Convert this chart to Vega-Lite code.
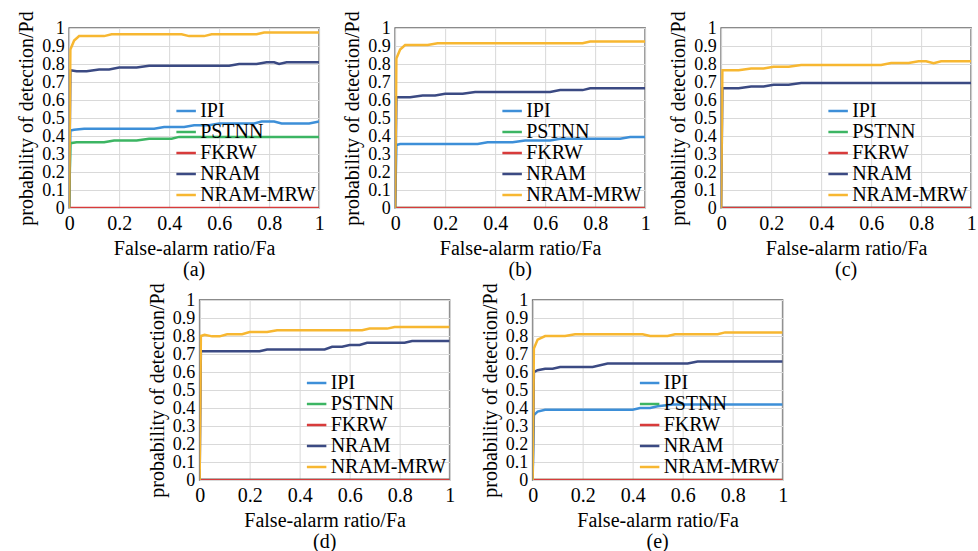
{
  "$schema": "https://vega.github.io/schema/vega-lite/v6.json",
  "padding": {"left": 15, "top": 10, "right": 0, "bottom": 0},
  "background": "white",
  "data": {"values": [
    {"p":"a","m":"IPI","x":0,"y":0},{"p":"a","m":"IPI","x":0.005,"y":0.43},{"p":"a","m":"IPI","x":0.02,"y":0.435},{"p":"a","m":"IPI","x":0.06,"y":0.44},{"p":"a","m":"IPI","x":0.34,"y":0.44},{"p":"a","m":"IPI","x":0.38,"y":0.45},{"p":"a","m":"IPI","x":0.46,"y":0.45},{"p":"a","m":"IPI","x":0.5,"y":0.46},{"p":"a","m":"IPI","x":0.56,"y":0.46},{"p":"a","m":"IPI","x":0.6,"y":0.47},{"p":"a","m":"IPI","x":0.74,"y":0.47},{"p":"a","m":"IPI","x":0.77,"y":0.48},{"p":"a","m":"IPI","x":0.82,"y":0.48},{"p":"a","m":"IPI","x":0.85,"y":0.47},{"p":"a","m":"IPI","x":0.96,"y":0.47},{"p":"a","m":"IPI","x":1,"y":0.48},
    {"p":"a","m":"PSTNN","x":0,"y":0},{"p":"a","m":"PSTNN","x":0.005,"y":0.36},{"p":"a","m":"PSTNN","x":0.03,"y":0.365},{"p":"a","m":"PSTNN","x":0.14,"y":0.365},{"p":"a","m":"PSTNN","x":0.18,"y":0.375},{"p":"a","m":"PSTNN","x":0.27,"y":0.375},{"p":"a","m":"PSTNN","x":0.32,"y":0.385},{"p":"a","m":"PSTNN","x":0.41,"y":0.385},{"p":"a","m":"PSTNN","x":0.44,"y":0.395},{"p":"a","m":"PSTNN","x":1,"y":0.395},
    {"p":"a","m":"FKRW","x":0,"y":0},{"p":"a","m":"FKRW","x":1,"y":0},
    {"p":"a","m":"NRAM","x":0,"y":0},{"p":"a","m":"NRAM","x":0.005,"y":0.765},{"p":"a","m":"NRAM","x":0.03,"y":0.76},{"p":"a","m":"NRAM","x":0.07,"y":0.76},{"p":"a","m":"NRAM","x":0.12,"y":0.77},{"p":"a","m":"NRAM","x":0.16,"y":0.77},{"p":"a","m":"NRAM","x":0.2,"y":0.78},{"p":"a","m":"NRAM","x":0.27,"y":0.78},{"p":"a","m":"NRAM","x":0.32,"y":0.79},{"p":"a","m":"NRAM","x":0.64,"y":0.79},{"p":"a","m":"NRAM","x":0.68,"y":0.8},{"p":"a","m":"NRAM","x":0.75,"y":0.8},{"p":"a","m":"NRAM","x":0.79,"y":0.81},{"p":"a","m":"NRAM","x":0.82,"y":0.81},{"p":"a","m":"NRAM","x":0.84,"y":0.8},{"p":"a","m":"NRAM","x":0.87,"y":0.81},{"p":"a","m":"NRAM","x":1,"y":0.81},
    {"p":"a","m":"NRAM-MRW","x":0,"y":0},{"p":"a","m":"NRAM-MRW","x":0.005,"y":0.88},{"p":"a","m":"NRAM-MRW","x":0.02,"y":0.93},{"p":"a","m":"NRAM-MRW","x":0.04,"y":0.955},{"p":"a","m":"NRAM-MRW","x":0.14,"y":0.955},{"p":"a","m":"NRAM-MRW","x":0.17,"y":0.965},{"p":"a","m":"NRAM-MRW","x":0.45,"y":0.965},{"p":"a","m":"NRAM-MRW","x":0.48,"y":0.955},{"p":"a","m":"NRAM-MRW","x":0.54,"y":0.955},{"p":"a","m":"NRAM-MRW","x":0.57,"y":0.965},{"p":"a","m":"NRAM-MRW","x":0.75,"y":0.965},{"p":"a","m":"NRAM-MRW","x":0.78,"y":0.975},{"p":"a","m":"NRAM-MRW","x":1,"y":0.975},

    {"p":"b","m":"IPI","x":0,"y":0},{"p":"b","m":"IPI","x":0.005,"y":0.35},{"p":"b","m":"IPI","x":0.02,"y":0.355},{"p":"b","m":"IPI","x":0.33,"y":0.355},{"p":"b","m":"IPI","x":0.37,"y":0.365},{"p":"b","m":"IPI","x":0.47,"y":0.365},{"p":"b","m":"IPI","x":0.52,"y":0.375},{"p":"b","m":"IPI","x":0.62,"y":0.375},{"p":"b","m":"IPI","x":0.66,"y":0.385},{"p":"b","m":"IPI","x":0.9,"y":0.385},{"p":"b","m":"IPI","x":0.94,"y":0.395},{"p":"b","m":"IPI","x":1,"y":0.395},
    {"p":"b","m":"PSTNN","x":0,"y":0},{"p":"b","m":"PSTNN","x":1,"y":0},
    {"p":"b","m":"FKRW","x":0,"y":0},{"p":"b","m":"FKRW","x":1,"y":0},
    {"p":"b","m":"NRAM","x":0,"y":0},{"p":"b","m":"NRAM","x":0.005,"y":0.615},{"p":"b","m":"NRAM","x":0.03,"y":0.615},{"p":"b","m":"NRAM","x":0.06,"y":0.615},{"p":"b","m":"NRAM","x":0.11,"y":0.625},{"p":"b","m":"NRAM","x":0.16,"y":0.625},{"p":"b","m":"NRAM","x":0.2,"y":0.635},{"p":"b","m":"NRAM","x":0.27,"y":0.635},{"p":"b","m":"NRAM","x":0.32,"y":0.645},{"p":"b","m":"NRAM","x":0.62,"y":0.645},{"p":"b","m":"NRAM","x":0.66,"y":0.655},{"p":"b","m":"NRAM","x":0.75,"y":0.655},{"p":"b","m":"NRAM","x":0.78,"y":0.665},{"p":"b","m":"NRAM","x":1,"y":0.665},
    {"p":"b","m":"NRAM-MRW","x":0,"y":0},{"p":"b","m":"NRAM-MRW","x":0.005,"y":0.83},{"p":"b","m":"NRAM-MRW","x":0.02,"y":0.88},{"p":"b","m":"NRAM-MRW","x":0.04,"y":0.905},{"p":"b","m":"NRAM-MRW","x":0.13,"y":0.905},{"p":"b","m":"NRAM-MRW","x":0.17,"y":0.915},{"p":"b","m":"NRAM-MRW","x":0.75,"y":0.915},{"p":"b","m":"NRAM-MRW","x":0.78,"y":0.925},{"p":"b","m":"NRAM-MRW","x":1,"y":0.925},

    {"p":"c","m":"IPI","x":0,"y":0},{"p":"c","m":"IPI","x":1,"y":0},
    {"p":"c","m":"PSTNN","x":0,"y":0},{"p":"c","m":"PSTNN","x":1,"y":0},
    {"p":"c","m":"FKRW","x":0,"y":0},{"p":"c","m":"FKRW","x":1,"y":0},
    {"p":"c","m":"NRAM","x":0,"y":0},{"p":"c","m":"NRAM","x":0.005,"y":0.665},{"p":"c","m":"NRAM","x":0.03,"y":0.665},{"p":"c","m":"NRAM","x":0.07,"y":0.665},{"p":"c","m":"NRAM","x":0.12,"y":0.675},{"p":"c","m":"NRAM","x":0.17,"y":0.675},{"p":"c","m":"NRAM","x":0.21,"y":0.685},{"p":"c","m":"NRAM","x":0.27,"y":0.685},{"p":"c","m":"NRAM","x":0.32,"y":0.695},{"p":"c","m":"NRAM","x":1,"y":0.695},
    {"p":"c","m":"NRAM-MRW","x":0,"y":0},{"p":"c","m":"NRAM-MRW","x":0.005,"y":0.765},{"p":"c","m":"NRAM-MRW","x":0.03,"y":0.765},{"p":"c","m":"NRAM-MRW","x":0.07,"y":0.765},{"p":"c","m":"NRAM-MRW","x":0.12,"y":0.775},{"p":"c","m":"NRAM-MRW","x":0.17,"y":0.775},{"p":"c","m":"NRAM-MRW","x":0.21,"y":0.785},{"p":"c","m":"NRAM-MRW","x":0.27,"y":0.785},{"p":"c","m":"NRAM-MRW","x":0.32,"y":0.795},{"p":"c","m":"NRAM-MRW","x":0.64,"y":0.795},{"p":"c","m":"NRAM-MRW","x":0.68,"y":0.805},{"p":"c","m":"NRAM-MRW","x":0.75,"y":0.805},{"p":"c","m":"NRAM-MRW","x":0.79,"y":0.815},{"p":"c","m":"NRAM-MRW","x":0.82,"y":0.815},{"p":"c","m":"NRAM-MRW","x":0.85,"y":0.805},{"p":"c","m":"NRAM-MRW","x":0.88,"y":0.815},{"p":"c","m":"NRAM-MRW","x":1,"y":0.815},

    {"p":"d","m":"IPI","x":0,"y":0},{"p":"d","m":"IPI","x":1,"y":0},
    {"p":"d","m":"PSTNN","x":0,"y":0},{"p":"d","m":"PSTNN","x":1,"y":0},
    {"p":"d","m":"FKRW","x":0,"y":0},{"p":"d","m":"FKRW","x":1,"y":0},
    {"p":"d","m":"NRAM","x":0,"y":0},{"p":"d","m":"NRAM","x":0.005,"y":0.715},{"p":"d","m":"NRAM","x":0.24,"y":0.715},{"p":"d","m":"NRAM","x":0.27,"y":0.725},{"p":"d","m":"NRAM","x":0.5,"y":0.725},{"p":"d","m":"NRAM","x":0.53,"y":0.74},{"p":"d","m":"NRAM","x":0.57,"y":0.74},{"p":"d","m":"NRAM","x":0.6,"y":0.75},{"p":"d","m":"NRAM","x":0.64,"y":0.75},{"p":"d","m":"NRAM","x":0.67,"y":0.762},{"p":"d","m":"NRAM","x":0.82,"y":0.762},{"p":"d","m":"NRAM","x":0.85,"y":0.772},{"p":"d","m":"NRAM","x":1,"y":0.772},
    {"p":"d","m":"NRAM-MRW","x":0,"y":0},{"p":"d","m":"NRAM-MRW","x":0.005,"y":0.8},{"p":"d","m":"NRAM-MRW","x":0.02,"y":0.807},{"p":"d","m":"NRAM-MRW","x":0.05,"y":0.798},{"p":"d","m":"NRAM-MRW","x":0.08,"y":0.798},{"p":"d","m":"NRAM-MRW","x":0.11,"y":0.81},{"p":"d","m":"NRAM-MRW","x":0.17,"y":0.81},{"p":"d","m":"NRAM-MRW","x":0.2,"y":0.822},{"p":"d","m":"NRAM-MRW","x":0.27,"y":0.822},{"p":"d","m":"NRAM-MRW","x":0.31,"y":0.832},{"p":"d","m":"NRAM-MRW","x":0.65,"y":0.832},{"p":"d","m":"NRAM-MRW","x":0.68,"y":0.841},{"p":"d","m":"NRAM-MRW","x":0.75,"y":0.841},{"p":"d","m":"NRAM-MRW","x":0.78,"y":0.85},{"p":"d","m":"NRAM-MRW","x":1,"y":0.85},

    {"p":"e","m":"IPI","x":0,"y":0},{"p":"e","m":"IPI","x":0.005,"y":0.36},{"p":"e","m":"IPI","x":0.02,"y":0.38},{"p":"e","m":"IPI","x":0.05,"y":0.39},{"p":"e","m":"IPI","x":0.4,"y":0.39},{"p":"e","m":"IPI","x":0.43,"y":0.4},{"p":"e","m":"IPI","x":0.47,"y":0.4},{"p":"e","m":"IPI","x":0.5,"y":0.41},{"p":"e","m":"IPI","x":0.56,"y":0.42},{"p":"e","m":"IPI","x":1,"y":0.42},
    {"p":"e","m":"PSTNN","x":0,"y":0},{"p":"e","m":"PSTNN","x":1,"y":0},
    {"p":"e","m":"FKRW","x":0,"y":0},{"p":"e","m":"FKRW","x":1,"y":0},
    {"p":"e","m":"NRAM","x":0,"y":0},{"p":"e","m":"NRAM","x":0.005,"y":0.6},{"p":"e","m":"NRAM","x":0.02,"y":0.61},{"p":"e","m":"NRAM","x":0.05,"y":0.618},{"p":"e","m":"NRAM","x":0.08,"y":0.618},{"p":"e","m":"NRAM","x":0.11,"y":0.628},{"p":"e","m":"NRAM","x":0.24,"y":0.628},{"p":"e","m":"NRAM","x":0.3,"y":0.647},{"p":"e","m":"NRAM","x":0.62,"y":0.647},{"p":"e","m":"NRAM","x":0.66,"y":0.658},{"p":"e","m":"NRAM","x":1,"y":0.658},
    {"p":"e","m":"NRAM-MRW","x":0,"y":0},{"p":"e","m":"NRAM-MRW","x":0.005,"y":0.73},{"p":"e","m":"NRAM-MRW","x":0.02,"y":0.78},{"p":"e","m":"NRAM-MRW","x":0.05,"y":0.8},{"p":"e","m":"NRAM-MRW","x":0.13,"y":0.8},{"p":"e","m":"NRAM-MRW","x":0.17,"y":0.81},{"p":"e","m":"NRAM-MRW","x":0.44,"y":0.81},{"p":"e","m":"NRAM-MRW","x":0.47,"y":0.8},{"p":"e","m":"NRAM-MRW","x":0.54,"y":0.8},{"p":"e","m":"NRAM-MRW","x":0.57,"y":0.81},{"p":"e","m":"NRAM-MRW","x":0.74,"y":0.81},{"p":"e","m":"NRAM-MRW","x":0.77,"y":0.82},{"p":"e","m":"NRAM-MRW","x":1,"y":0.82}
  ]},
  "vconcat": [
    {"hconcat": [
      {"width": 250, "height": 180, "title": "(a)", "transform": [{"filter": "datum.p === 'a'"}],
       "mark": {"type": "line", "strokeWidth": 2.5, "clip": true},
       "encoding": {
         "x": {"field": "x", "type": "quantitative", "scale": {"domain": [0, 1], "nice": false}, "axis": {"values": [0, 0.2, 0.4, 0.6, 0.8, 1], "format": "~g", "title": "False-alarm ratio/Fa"}},
         "y": {"field": "y", "type": "quantitative", "scale": {"domain": [0, 1], "nice": false}, "axis": {"values": [0, 0.1, 0.2, 0.3, 0.4, 0.5, 0.6, 0.7, 0.8, 0.9, 1], "format": "~g", "labelFontSize": 18, "title": "probability of detection/Pd"}},
         "color": {"field": "m", "type": "nominal", "scale": {"domain": ["IPI", "PSTNN", "FKRW", "NRAM", "NRAM-MRW"], "range": ["#3d8fd8", "#3cb563", "#d83b3b", "#3b4a83", "#f7b731"]}, "legend": {"title": null}}
       }},
      {"width": 250, "height": 180, "title": "(b)", "transform": [{"filter": "datum.p === 'b'"}],
       "mark": {"type": "line", "strokeWidth": 2.5, "clip": true},
       "encoding": {
         "x": {"field": "x", "type": "quantitative", "scale": {"domain": [0, 1], "nice": false}, "axis": {"values": [0, 0.2, 0.4, 0.6, 0.8, 1], "format": "~g", "title": "False-alarm ratio/Fa"}},
         "y": {"field": "y", "type": "quantitative", "scale": {"domain": [0, 1], "nice": false}, "axis": {"values": [0, 0.1, 0.2, 0.3, 0.4, 0.5, 0.6, 0.7, 0.8, 0.9, 1], "format": "~g", "labelFontSize": 18, "title": "probability of detection/Pd"}},
         "color": {"field": "m", "type": "nominal", "scale": {"domain": ["IPI", "PSTNN", "FKRW", "NRAM", "NRAM-MRW"], "range": ["#3d8fd8", "#3cb563", "#d83b3b", "#3b4a83", "#f7b731"]}, "legend": {"title": null}}
       }},
      {"width": 250, "height": 180, "title": "(c)", "transform": [{"filter": "datum.p === 'c'"}],
       "mark": {"type": "line", "strokeWidth": 2.5, "clip": true},
       "encoding": {
         "x": {"field": "x", "type": "quantitative", "scale": {"domain": [0, 1], "nice": false}, "axis": {"values": [0, 0.2, 0.4, 0.6, 0.8, 1], "format": "~g", "title": "False-alarm ratio/Fa"}},
         "y": {"field": "y", "type": "quantitative", "scale": {"domain": [0, 1], "nice": false}, "axis": {"values": [0, 0.1, 0.2, 0.3, 0.4, 0.5, 0.6, 0.7, 0.8, 0.9, 1], "format": "~g", "labelFontSize": 18, "title": "probability of detection/Pd"}},
         "color": {"field": "m", "type": "nominal", "scale": {"domain": ["IPI", "PSTNN", "FKRW", "NRAM", "NRAM-MRW"], "range": ["#3d8fd8", "#3cb563", "#d83b3b", "#3b4a83", "#f7b731"]}, "legend": {"title": null}}
       }}
    ], "spacing": 16, "resolve": {"scale": {"color": "independent"}, "legend": {"color": "independent"}}},
    {"hconcat": [
      {"width": 250, "height": 180, "title": "(d)", "transform": [{"filter": "datum.p === 'd'"}],
       "mark": {"type": "line", "strokeWidth": 2.5, "clip": true},
       "encoding": {
         "x": {"field": "x", "type": "quantitative", "scale": {"domain": [0, 1], "nice": false}, "axis": {"values": [0, 0.2, 0.4, 0.6, 0.8, 1], "format": "~g", "title": "False-alarm ratio/Fa"}},
         "y": {"field": "y", "type": "quantitative", "scale": {"domain": [0, 1], "nice": false}, "axis": {"values": [0, 0.1, 0.2, 0.3, 0.4, 0.5, 0.6, 0.7, 0.8, 0.9, 1], "format": "~g", "labelFontSize": 18, "title": "probability of detection/Pd"}},
         "color": {"field": "m", "type": "nominal", "scale": {"domain": ["IPI", "PSTNN", "FKRW", "NRAM", "NRAM-MRW"], "range": ["#3d8fd8", "#3cb563", "#d83b3b", "#3b4a83", "#f7b731"]}, "legend": {"title": null}}
       }},
      {"width": 250, "height": 180, "title": "(e)", "transform": [{"filter": "datum.p === 'e'"}],
       "mark": {"type": "line", "strokeWidth": 2.5, "clip": true},
       "encoding": {
         "x": {"field": "x", "type": "quantitative", "scale": {"domain": [0, 1], "nice": false}, "axis": {"values": [0, 0.2, 0.4, 0.6, 0.8, 1], "format": "~g", "title": "False-alarm ratio/Fa"}},
         "y": {"field": "y", "type": "quantitative", "scale": {"domain": [0, 1], "nice": false}, "axis": {"values": [0, 0.1, 0.2, 0.3, 0.4, 0.5, 0.6, 0.7, 0.8, 0.9, 1], "format": "~g", "labelFontSize": 18, "title": "probability of detection/Pd"}},
         "color": {"field": "m", "type": "nominal", "scale": {"domain": ["IPI", "PSTNN", "FKRW", "NRAM", "NRAM-MRW"], "range": ["#3d8fd8", "#3cb563", "#d83b3b", "#3b4a83", "#f7b731"]}, "legend": {"title": null}}
       }}
    ], "spacing": 23, "title": {"text": " ", "orient": "right", "offset": 38, "fontSize": 20}, "resolve": {"scale": {"color": "independent"}, "legend": {"color": "independent"}}}
  ],
  "spacing": 1,
  "center": true,
  "resolve": {"scale": {"color": "independent"}, "legend": {"color": "independent"}},
  "config": {
    "font": "Times New Roman, Liberation Serif, DejaVu Serif, serif",
    "view": {"stroke": "#666666", "strokeWidth": 1.5},
    "axis": {"labelFont": "Times New Roman, Liberation Serif, DejaVu Serif, serif", "titleFont": "Times New Roman, Liberation Serif, DejaVu Serif, serif", "labelFontSize": 20, "titleFontSize": 20, "titleFontWeight": "normal", "labelColor": "#000000", "titleColor": "#000000", "ticks": false, "domain": false, "gridColor": "#d9d9d9", "gridWidth": 1, "labelPadding": 5, "titlePadding": 5, "labelOverlap": false, "labelFlush": false, "labelBound": false},
    "legend": {"orient": "bottom-right", "offset": 3, "labelFont": "Times New Roman, Liberation Serif, DejaVu Serif, serif", "labelFontSize": 20, "labelColor": "#000000", "symbolSize": 380, "symbolStrokeWidth": 2.5, "rowPadding": 0, "labelOffset": 3, "padding": 0},
    "title": {"orient": "bottom", "font": "Times New Roman, Liberation Serif, DejaVu Serif, serif", "fontSize": 20, "fontWeight": "normal", "color": "#000000", "offset": 2}
  }
}
